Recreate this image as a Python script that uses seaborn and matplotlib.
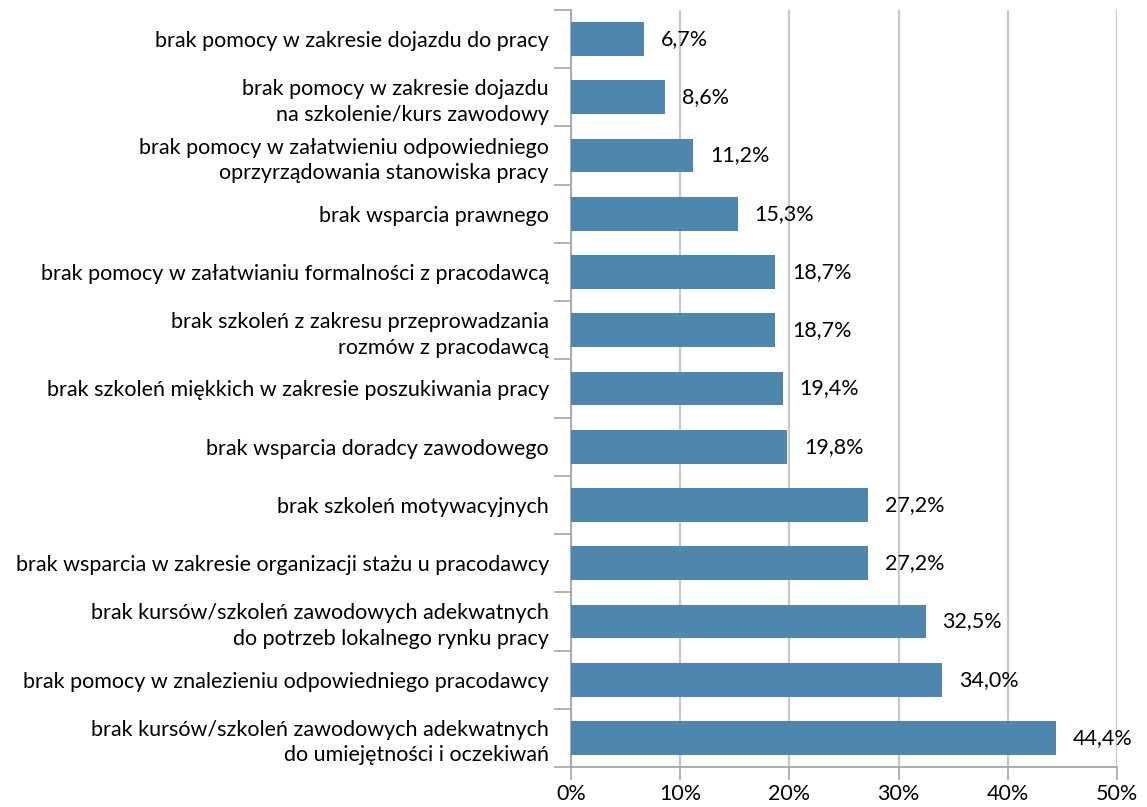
import matplotlib
matplotlib.use("Agg")
import matplotlib.pyplot as plt
import seaborn as sns
import numpy as np
import pandas as pd

categories = [
    "brak pomocy w zakresie dojazdu do pracy",
    "brak pomocy w zakresie dojazdu\nna szkolenie/kurs zawodowy",
    "brak pomocy w załatwieniu odpowiedniego\noprzyrządowania stanowiska pracy",
    "brak wsparcia prawnego",
    "brak pomocy w załatwianiu formalności z pracodawcą",
    "brak szkoleń z zakresu przeprowadzania\nrozmów z pracodawcą",
    "brak szkoleń miękkich w zakresie poszukiwania pracy",
    "brak wsparcia doradcy zawodowego",
    "brak szkoleń motywacyjnych",
    "brak wsparcia w zakresie organizacji stażu u pracodawcy",
    "brak kursów/szkoleń zawodowych adekwatnych\ndo potrzeb lokalnego rynku pracy",
    "brak pomocy w znalezieniu odpowiedniego pracodawcy",
    "brak kursów/szkoleń zawodowych adekwatnych\ndo umiejętności i oczekiwań",
]
values = [6.7, 8.6, 11.2, 15.3, 18.7, 18.7, 19.4, 19.8, 27.2, 27.2, 32.5, 34.0, 44.4]
x_ticks = [0, 10, 20, 30, 40, 50]

sns.set_theme(style="white")
plt.rcParams['font.family'] = ['Lato', 'DejaVu Sans']

FS = 15.5

df = pd.DataFrame({"cat": categories, "val": values})

fig = plt.figure(figsize=(11.47, 8.07), dpi=100)
ax = fig.add_axes([0.4978, 0.0496, 0.9738 - 0.4978, 0.9876 - 0.0496])

sns.barplot(data=df, y="cat", x="val", orient="h", color="#4E87AD",
            saturation=1, width=0.58, linewidth=0, ax=ax, zorder=3)

ax.set_xlim(0, 50)
ax.set_ylim(len(categories) - 0.5, -0.5)
ax.set_xticks(x_ticks)
ax.set_xticklabels([f"{t}%" for t in x_ticks], fontsize=FS, color="#000000")
ax.set_xlabel("")
ax.set_ylabel("")
ax.tick_params(axis="y", which="major", length=0, labelsize=FS, pad=16, labelcolor="#000000")
ax.set_yticks(range(len(categories)))
ax.set_yticklabels(categories, fontsize=FS, linespacing=1.35)
ax.set_yticks(np.arange(-0.5, len(categories), 1.0), minor=True)
ax.tick_params(axis="y", which="minor", length=12, width=1.2, color="#A6A6A6", left=True)
ax.tick_params(axis="x", which="major", length=9, width=1.2, color="#A6A6A6", bottom=True,
               labelsize=FS, pad=3)

ax.grid(axis="x", color="#C8C8C8", linewidth=1.6, zorder=0)
ax.set_axisbelow(True)
for s in ["top", "right"]:
    ax.spines[s].set_visible(False)
for s in ["left", "bottom"]:
    ax.spines[s].set_color("#A6A6A6")
    ax.spines[s].set_linewidth(1.3)

for i, v in enumerate(values):
    ax.annotate(f"{v:.1f}%".replace(".", ","), xy=(v, i), xytext=(12, 0),
                textcoords="offset points", ha="left", va="center",
                fontsize=FS, color="#000000", zorder=5)

fig.savefig("out.png", dpi=100)
